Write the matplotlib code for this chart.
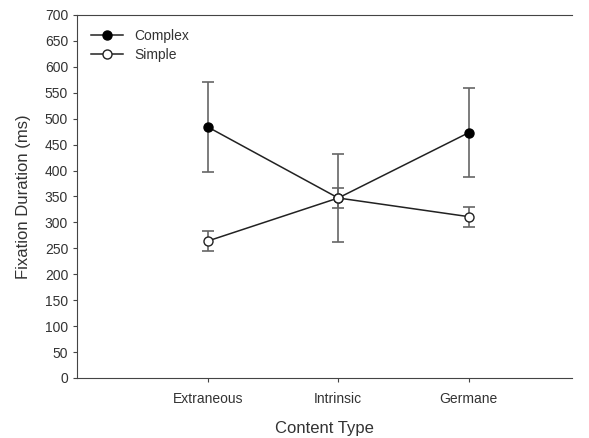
import matplotlib
matplotlib.use('Agg')
import matplotlib.pyplot as plt
from matplotlib.lines import Line2D

plt.rcParams['font.family'] = ['Liberation Sans', 'DejaVu Sans']

categories = ['Extraneous', 'Intrinsic', 'Germane']
complex_mean = [484, 347, 473]
complex_err = [86, 85, 86]
simple_mean = [264, 347, 311]
simple_err = [19, 20, 19]

x = [1, 2, 3]
fig = plt.figure(figsize=(5.89, 4.38), dpi=100)
ax = fig.add_axes([0.131, 0.137, 0.84, 0.829])

ax.errorbar(x, complex_mean, yerr=complex_err, color='#222222', ecolor='#666666',
            elinewidth=1.2, capsize=4, capthick=1.2, marker='o', markersize=6.5,
            markerfacecolor='black', markeredgecolor='black', lw=1.1, zorder=3)
ax.errorbar(x, simple_mean, yerr=simple_err, color='#222222', ecolor='#666666',
            elinewidth=1.2, capsize=4, capthick=1.2, marker='o', markersize=6.5,
            markerfacecolor='white', markeredgecolor='#222222', lw=1.1, zorder=4)

ax.set_xlim(0, 3.79)
ax.set_ylim(0, 700)
ax.set_yticks(range(0, 701, 50))
ax.set_xticks(x)
ax.set_xticklabels(categories)
ax.tick_params(direction='out', length=3, color='#444444', labelcolor='#333333', labelsize=10)
ax.tick_params(axis='x', pad=7)
for s in ['left', 'bottom', 'top']:
    ax.spines[s].set_color('#444444')
ax.spines['right'].set_visible(False)

ax.set_xlabel('Content Type', fontsize=12, color='#333333', labelpad=11)
ax.set_ylabel('Fixation Duration (ms)', fontsize=12, color='#333333', labelpad=10)

handles = [
    Line2D([], [], color='#222222', lw=1.1, marker='o', markersize=6.5,
           markerfacecolor='black', markeredgecolor='black'),
    Line2D([], [], color='#222222', lw=1.1, marker='o', markersize=6.5,
           markerfacecolor='white', markeredgecolor='#222222'),
]
ax.legend(handles, ['Complex', 'Simple'], loc='upper left', frameon=False, fontsize=10,
          handlelength=2.3, borderaxespad=0.6, labelspacing=0.4, labelcolor='#333333')

fig.savefig('out.png', dpi=100)
